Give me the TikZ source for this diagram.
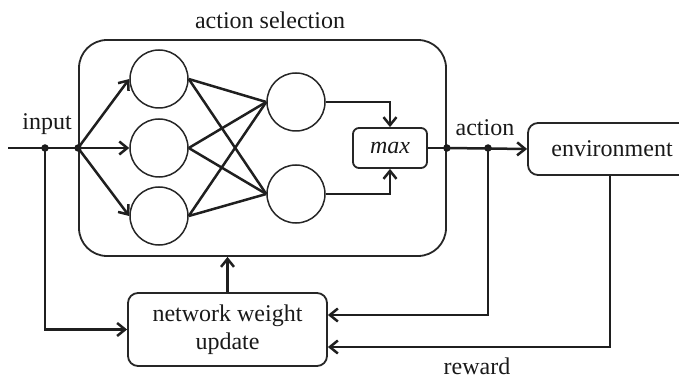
\documentclass[tikz,border=0pt]{standalone}
\usepackage{fontspec}
\setmainfont{Liberation Serif}
\usetikzlibrary{arrows.meta,calc}
\begin{document}
\begin{tikzpicture}[x=1pt,y=-1pt,
  line/.style={line width=2.5pt, draw=black!88},
  arr/.style={line, -{Straight Barb[length=8pt,width=13pt]}},
  neuron/.style={circle, draw=black!85, line width=1.5pt, minimum size=58pt, inner sep=0pt},
  boxx/.style={draw=black!85, line width=1.8pt, inner sep=0pt},
  dotnode/.style={circle, fill=black!90, inner sep=0pt, minimum size=7.5pt},
  lbl/.style={font=\fontsize{24}{28}\selectfont, inner sep=0pt, text=black!90}]
\useasboundingbox (0,0) rectangle (679,379);
\clip (0,0) rectangle (679,379);

% boxes
\node[boxx, rounded corners=28pt, minimum width=367pt, minimum height=216pt] (sel) at (262.5,148) {};
\node[lbl] (title) at (270,20) {action selection};
\node[boxx, rounded corners=6pt, minimum width=74pt, minimum height=40pt, lbl] (max) at (390,148) {\itshape max};
\node[boxx, rounded corners=10pt, minimum width=168pt, minimum height=52pt, lbl] (env) at (612,149) {environment};
\node[boxx, rounded corners=10pt, minimum width=199pt, minimum height=73pt, lbl, align=center] (upd) at (227.5,329.5) {network weight\\update};

% neurons
\node[neuron] (L1) at (159,79) {};
\node[neuron] (L2) at (159,148) {};
\node[neuron] (L3) at (159,216) {};
\node[neuron] (R1) at (296,102) {};
\node[neuron] (R2) at (296,194) {};

% labels
\node[lbl] (inlbl) at (47,124) {input};
\node[lbl] (actlbl) at (485,128) {action};
\node[lbl] (rewlbl) at (477,366) {reward};

% junctions
\coordinate (in0) at (8,148);
\node[dotnode] (d1) at (45,148) {};
\node[dotnode] (d2) at (sel.west) {};
\node[dotnode] (d3) at (sel.east) {};
\node[dotnode] (d4) at (488,148) {};

% connectors
\draw[line] (in0) -- (d2.center);
\foreach \n in {L1,L2,L3} \draw[arr] (d2.center) -- (\n.west);
\foreach \a in {L1,L2,L3} \foreach \b in {R1,R2} \draw[line] (\a.east) -- (\b.west);
\draw[arr] (R1.east) -| (max.north);
\draw[arr] (R2.east) -| (max.south);
\draw[line] (max.east) -- (d3.center);
\draw[arr] (d3.center) -- (env.west);
\draw[arr] (d1.center) |- (upd.west);
\draw[arr] (upd.north) -- (upd.north |- sel.south);
\draw[arr] (d4.center) |- ($(upd.east)+(0,-14.5)$);
\draw[arr] ($(env.south)+(-2,0)$) |- ($(upd.east)+(0,17.5)$);
\end{tikzpicture}
\end{document}
